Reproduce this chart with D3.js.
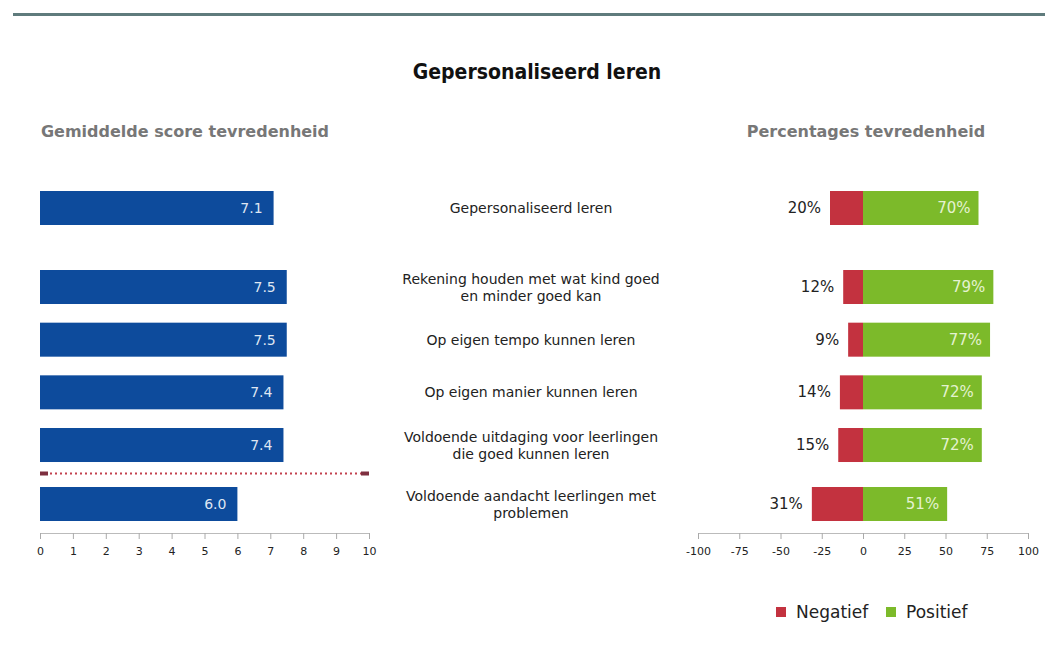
<!DOCTYPE html>
<html>
<head>
<meta charset="utf-8">
<script src="https://cdn.jsdelivr.net/npm/d3@7"></script>
<style>
  body { margin: 0; background: #fff; }
  svg { display: block; }
</style>
</head>
<body>
<svg id="chart" width="1045" height="651"></svg>
<script>
// data
var categories = [
  ["Gepersonaliseerd leren"],
  ["Rekening houden met wat kind goed", "en minder goed kan"],
  ["Op eigen tempo kunnen leren"],
  ["Op eigen manier kunnen leren"],
  ["Voldoende uitdaging voor leerlingen", "die goed kunnen leren"],
  ["Voldoende aandacht leerlingen met", "problemen"]
];
var scores = [7.1, 7.5, 7.5, 7.4, 7.4, 6.0];
var negatief = [20, 12, 9, 14, 15, 31];
var positief = [70, 79, 77, 72, 72, 51];
var scoreTicks = [0, 1, 2, 3, 4, 5, 6, 7, 8, 9, 10];
var pctTicks = [-100, -75, -50, -25, 0, 25, 50, 75, 100];
var legendLabels = ["Negatief", "Positief"];

var svg = d3.select("#chart");
var fontMain = "'DejaVu Sans', sans-serif";
var fontHead = "'DejaVu Sans', sans-serif";

var blue = "#0d4b9c", red = "#c3323f", green = "#7cba2a";

// top rule
svg.append("line")
    .attr("x1", 13).attr("x2", 1045)
    .attr("y1", 14.5).attr("y2", 14.5)
    .attr("stroke", "#5f7b7c").attr("stroke-width", 3);

svg.append("text")
    .attr("x", 537).attr("y", 79)
    .attr("text-anchor", "middle")
    .style("font", "bold 21px 'DejaVu Sans Condensed', sans-serif")
    .style("fill", "#111")
    .text("Gepersonaliseerd leren");

svg.append("text")
    .attr("x", 185).attr("y", 137)
    .attr("text-anchor", "middle")
    .style("font", "bold 16px " + fontHead)
    .style("fill", "#777")
    .text("Gemiddelde score tevredenheid");

svg.append("text")
    .attr("x", 866).attr("y", 137)
    .attr("text-anchor", "middle")
    .style("font", "bold 16px " + fontHead)
    .style("fill", "#777")
    .text("Percentages tevredenheid");

// row position: extra gap after the overall row and after the separator
function slot(i) { return i + (i > 0 ? 0.5 : 0) + (i > 4 ? 0.12 : 0); }
var y = d3.scaleLinear().domain([0, slot(5)]).range([208, 504]);
var barH = 34;

// left: scores
var x1 = d3.scaleLinear().domain([0, 10]).range([40, 369]);

svg.append("g").selectAll("rect")
    .data(scores)
  .join("rect")
    .attr("x", x1(0))
    .attr("y", function(d, i) { return y(slot(i)) - barH / 2; })
    .attr("width", function(d) { return x1(d) - x1(0); })
    .attr("height", barH)
    .attr("fill", blue);

svg.append("g").selectAll("text")
    .data(scores)
  .join("text")
    .attr("x", function(d) { return x1(d) - 11; })
    .attr("y", function(d, i) { return y(slot(i)) + 5; })
    .attr("text-anchor", "end")
    .style("font", "14px " + fontMain)
    .style("fill", "#dfe6f2")
    .text(function(d) { return d.toFixed(1); });

// separator between the last two rows
var sepY = (y(slot(4)) + y(slot(5))) / 2 - 1;
svg.append("line")
    .attr("x1", x1(0)).attr("x2", x1(10))
    .attr("y1", sepY).attr("y2", sepY)
    .attr("stroke", "#c2404e").attr("stroke-width", 2)
    .attr("stroke-dasharray", "2,3");
[0, 10].forEach(function(v) {
  svg.append("rect")
      .attr("x", v === 0 ? x1(v) : x1(v) - 8).attr("y", sepY - 2)
      .attr("width", 8).attr("height", 4)
      .attr("fill", "#7e3040");
});

var axis1 = svg.append("g")
    .attr("transform", "translate(0,533)")
    .call(d3.axisBottom(x1).tickValues(scoreTicks).tickSize(6).tickPadding(8));

// right: percentages
var x2 = d3.scaleLinear().domain([-100, 100]).range([698, 1028]);

svg.append("g").selectAll("rect")
    .data(negatief)
  .join("rect")
    .attr("x", function(d) { return x2(-d); })
    .attr("y", function(d, i) { return y(slot(i)) - barH / 2; })
    .attr("width", function(d) { return x2(0) - x2(-d); })
    .attr("height", barH)
    .attr("fill", red);

svg.append("g").selectAll("rect")
    .data(positief)
  .join("rect")
    .attr("x", x2(0))
    .attr("y", function(d, i) { return y(slot(i)) - barH / 2; })
    .attr("width", function(d) { return x2(d) - x2(0); })
    .attr("height", barH)
    .attr("fill", green);

svg.append("g").selectAll("text")
    .data(negatief)
  .join("text")
    .attr("x", function(d) { return x2(-d) - 9; })
    .attr("y", function(d, i) { return y(slot(i)) + 5; })
    .attr("text-anchor", "end")
    .style("font", "15px " + fontMain)
    .style("fill", "#222")
    .text(function(d) { return d + "%"; });

svg.append("g").selectAll("text")
    .data(positief)
  .join("text")
    .attr("x", function(d) { return x2(d) - 8; })
    .attr("y", function(d, i) { return y(slot(i)) + 5; })
    .attr("text-anchor", "end")
    .style("font", "15px " + fontMain)
    .style("fill", "#e4f2d0")
    .text(function(d) { return d + "%"; });

var axis2 = svg.append("g")
    .attr("transform", "translate(0,533)")
    .call(d3.axisBottom(x2).tickValues(pctTicks).tickFormat(d3.format("d"))
      .tickSize(6).tickPadding(8));

[axis1, axis2].forEach(function(a) {
  a.select(".domain").attr("stroke", "#bbb");
  a.selectAll(".tick line").attr("stroke", "#aaa");
  a.selectAll(".tick text")
      .text(function(d) { return String(d); })
      .style("font", "11px " + fontHead)
      .style("fill", "#222");
});

// middle labels
var labels = svg.append("g").selectAll("text")
    .data(categories)
  .join("text")
    .attr("x", 531)
    .attr("y", function(d, i) { return y(slot(i)) + 5 - (d.length - 1) * 8.5; })
    .attr("text-anchor", "middle")
    .style("font", "14px " + fontMain)
    .style("fill", "#222");
labels.selectAll("tspan")
    .data(function(d) { return d; })
  .join("tspan")
    .attr("x", 531)
    .attr("dy", function(d, i) { return i === 0 ? 0 : 17; })
    .text(function(d) { return d; });

// legend
var legend = svg.append("g").selectAll("g")
    .data(legendLabels)
  .join("g")
    .attr("transform", function(d, i) { return "translate(" + (776 + i * 110) + ",607)"; });
legend.append("rect")
    .attr("width", 10).attr("height", 10)
    .attr("fill", function(d, i) { return i === 0 ? red : green; });
legend.append("text")
    .attr("x", 20).attr("y", 11)
    .style("font", "17px " + fontMain)
    .style("fill", "#222")
    .text(function(d) { return d; });
</script>
</body>
</html>
